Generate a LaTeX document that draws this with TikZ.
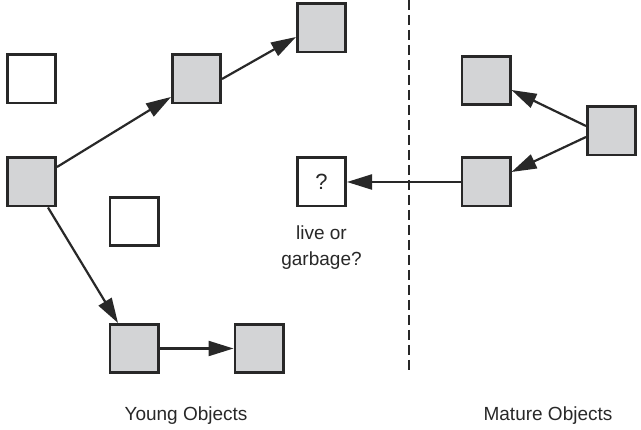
\documentclass[tikz,border=0pt]{standalone}
\usepackage{fontspec}
\setmainfont{Liberation Sans}
\usetikzlibrary{arrows.meta}
\definecolor{boxfill}{RGB}{211,212,214}
\definecolor{ink}{RGB}{40,40,40}
\tikzset{
  obj/.style={draw=ink, line width=2.8pt, minimum size=48.2pt, inner sep=0pt},
  live/.style={obj, fill=boxfill},
  dead/.style={obj, fill=white},
  ref/.style={draw=ink, line width=2.2pt, -{Triangle[length=25pt,width=15pt]}},
  lbl/.style={font=\fontsize{19}{23}\selectfont, text=ink, inner sep=0pt, anchor=base}
}
\begin{document}
\begin{tikzpicture}[x=1pt,y=-1pt]
\useasboundingbox[fill=white] (0,0) rectangle (641,430);
% young generation
\node[dead] (yw1) at (31.5,79) {};
\node[live] (yg1) at (31.5,182) {};
\node[live] (yg2) at (196.5,79) {};
\node[live] (yg3) at (321.5,28) {};
\node[dead] (yw2) at (134,221.5) {};
\node[live] (yg4) at (134,348.5) {};
\node[live] (yg5) at (259,348.5) {};
\node[dead, font=\fontsize{22}{26}\selectfont, text=ink] (q) at (321.5,182) {?};
% mature generation
\node[live] (m1) at (486,80.5) {};
\node[live] (m2) at (611.5,131) {};
\node[live] (m3) at (486,182) {};
% divider
\coordinate (divtop) at (409,0);
\coordinate (divbot) at (409,374);
\draw[draw=ink, line width=2.2pt, dash pattern=on 10pt off 5pt] (divtop) -- (divbot);
% references
\draw[ref] ([yshift=15pt]yg1.east) -- ([yshift=-18pt]yg2.west);
\draw[ref] (yg2.east) -- ([yshift=-9pt]yg3.west);
\draw[ref] ([xshift=16.5pt]yg1.south) -- ([xshift=-16pt]yg4.north);
\draw[ref] (yg4.east) -- (yg5.west);
\draw[ref] ([yshift=5pt]m2.west) -- ([yshift=-9.5pt]m1.east);
\draw[ref] ([yshift=-6pt]m2.west) -- ([yshift=10pt]m3.east);
\draw[ref] (m3.west) -- (q.east);
% labels
\node[lbl] (ql1) at (321.5,240) {live or};
\node[lbl] (ql2) at (321.5,266) {garbage?};
\node[lbl] (young) at (186,421) {Young Objects};
\node[lbl] (mature) at (548,421) {Mature Objects};
\end{tikzpicture}
\end{document}
